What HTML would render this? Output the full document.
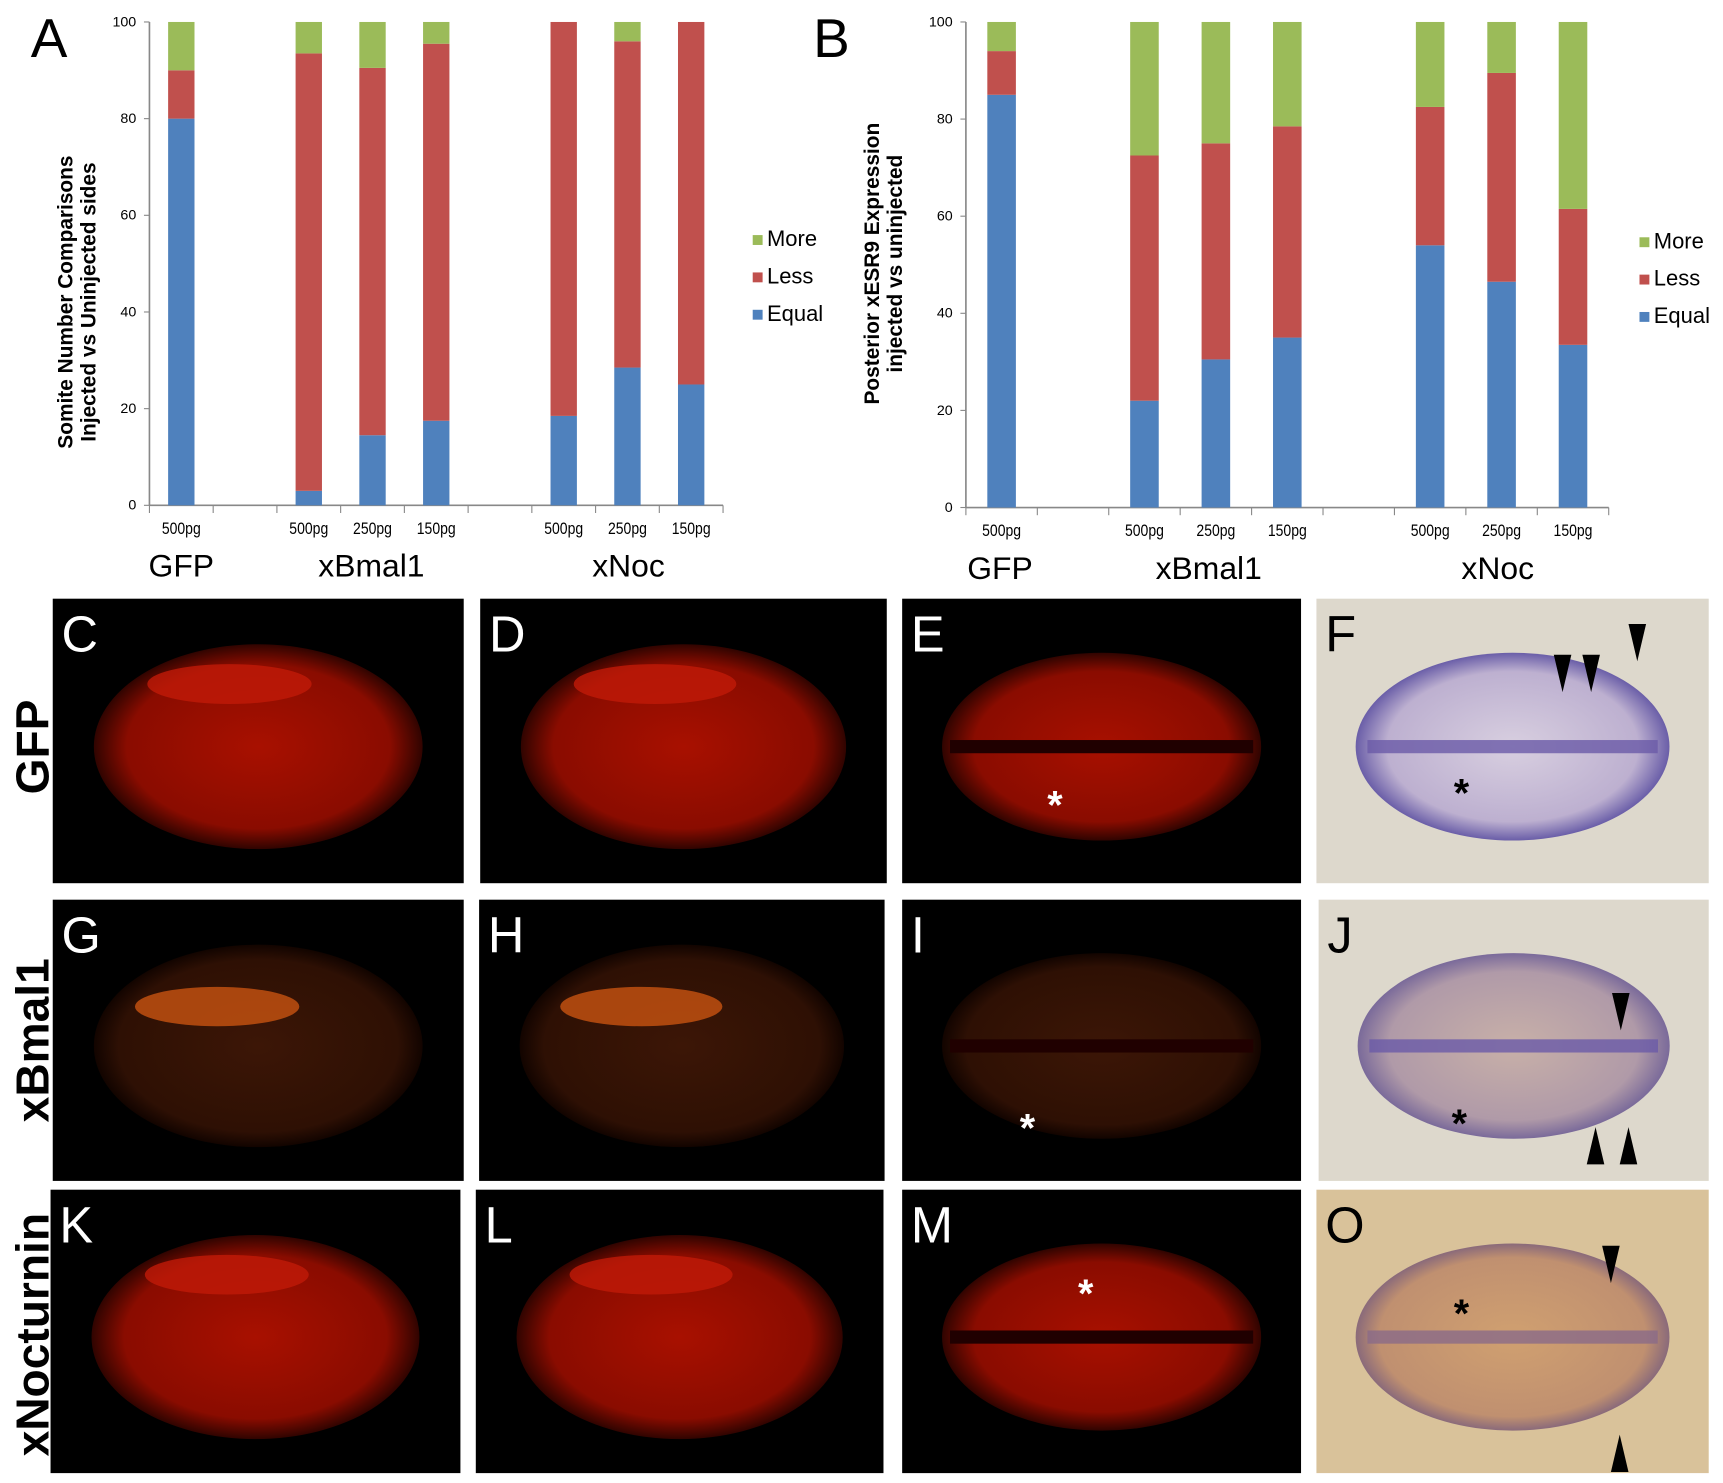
<!DOCTYPE html>
<html><head><meta charset="utf-8"><style>
html,body{margin:0;padding:0;background:#fff;}
svg{display:block;}
</style></head><body>
<svg id="fig" width="1723" height="1483" viewBox="0 0 1568 1350" preserveAspectRatio="none" xmlns="http://www.w3.org/2000/svg" font-family="Liberation Sans, sans-serif">
<defs>
<radialGradient id="redE" cx="50%" cy="50%" r="50%"><stop offset="0" stop-color="#a81000"/><stop offset="0.8" stop-color="#8a0c00"/><stop offset="1" stop-color="#300400"/></radialGradient>
<radialGradient id="brE" cx="50%" cy="50%" r="50%"><stop offset="0" stop-color="#3c1606"/><stop offset="0.85" stop-color="#2e1004"/><stop offset="1" stop-color="#120400"/></radialGradient>
<radialGradient id="ishE" cx="50%" cy="50%" r="50%"><stop offset="0" stop-color="#d8cfe0"/><stop offset="0.8" stop-color="#bdb0d0"/><stop offset="1" stop-color="#6a5ea8"/></radialGradient>
<radialGradient id="ishJ" cx="50%" cy="50%" r="50%"><stop offset="0" stop-color="#c8b0a8"/><stop offset="0.8" stop-color="#b09aa8"/><stop offset="1" stop-color="#7a6a9a"/></radialGradient>
<radialGradient id="ishO" cx="50%" cy="50%" r="50%"><stop offset="0" stop-color="#d0a070"/><stop offset="0.85" stop-color="#c09070"/><stop offset="1" stop-color="#8a6a7a"/></radialGradient>
</defs>
<g id="chartA"></g>
<g id="chartB"></g>
<g id="photos"></g>
</svg>
<script>
const NS='http://www.w3.org/2000/svg';
const cats=['500pg','500pg','250pg','150pg','500pg','250pg','150pg'];
const groups=['GFP','xBmal1','xNoc'];
const seriesNames=['Equal','Less','More'];
const colors=['#4f81bd','#c0504d','#9bbb59'];
const yTicks=[0,20,40,60,80,100];
const aEqual=[80,3,14.5,17.5,18.5,28.5,25];
const aLess=[10,90.5,76,78,81.5,67.5,75];
const aMore=[10,6.5,9.5,4.5,0,4,0];
const bEqual=[85,22,30.5,35,54,46.5,33.5];
const bLess=[9,50.5,44.5,43.5,28.5,43,28];
const bMore=[6,27.5,25,21.5,17.5,10.5,38.5];
const slotA=[0,2,3,4,6,7,8];

function el(tag,attrs,parent,text){const e=document.createElementNS(NS,tag);for(const k in attrs)e.setAttribute(k,attrs[k]);if(text!==undefined)e.textContent=text;parent.appendChild(e);return e;}

function drawChart(g,cfg,series){
  const y=v=>cfg.y0-(cfg.y0-cfg.y100)*v/100;
  const x=s=>cfg.x0+cfg.step*(s+0.5);
  let a=el('line',{x1:cfg.x0,y1:cfg.y100,x2:cfg.x0,y2:cfg.y0,stroke:'#888','stroke-width':1.5},g);
  
  a=el('line',{x1:cfg.x0,y1:cfg.y0,x2:cfg.x0+cfg.step*9,y2:cfg.y0,stroke:'#888','stroke-width':1.5},g);
  
  yTicks.forEach(t=>{
    const tl=el('line',{x1:cfg.x0-5,y1:y(t),x2:cfg.x0,y2:y(t),stroke:'#888'},g);
    
    const tx=el('text',{x:cfg.x0-12,y:y(t)+4,'font-size':13,'text-anchor':'end',fill:'#000'},g,String(t));
    
  });
  for(let i=0;i<=9;i++){const tl=el('line',{x1:cfg.x0+cfg.step*i,y1:cfg.y0,x2:cfg.x0+cfg.step*i,y2:cfg.y0+7,stroke:'#888'},g);
    }
  cats.forEach((c,i)=>{
    const cx=x(slotA[i]);let base=0;
    series.forEach((s,k)=>{
      const v=s[i];
      const r=el('rect',{x:cx-cfg.bw/2,y:y(base+v),width:cfg.bw,height:y(base)-y(base+v),fill:colors[k]},g);
      
      base+=v;
    });
    const t=el('text',{x:cx,y:cfg.y0+26,'font-size':15,'text-anchor':'middle',fill:'#000','transform':'translate('+cx+','+(cfg.y0+26)+') scale(0.85,1) translate('+(-cx)+','+(-(cfg.y0+26))+')'},g,c);
    
  });
  groups.forEach((gr,i)=>{
    const t=el('text',{x:cfg.gx[i],y:cfg.y0+65,'font-size':29,'text-anchor':'middle',fill:'#000'},g,gr);
    
  });
  [2,1,0].forEach((k,j)=>{
    const ly=cfg.ly+j*34;
    const r=el('rect',{x:cfg.lx,y:ly-10,width:9,height:9,fill:colors[k]},g);
    
    const t=el('text',{x:cfg.lx+13,y:ly,'font-size':20,fill:'#000'},g,seriesNames[k]);
    
  });
  const tt=el('text',{'font-size':19,'font-weight':'bold','text-anchor':'middle',fill:'#000',transform:'translate('+cfg.tx+','+cfg.ty+') rotate(-90)'},g);
  
  el('tspan',{x:0,y:0},tt,cfg.t1);el('tspan',{x:0,y:21},tt,cfg.t2);
  const pl=el('text',{x:cfg.px,y:52,'font-size':50,fill:'#000'},g,cfg.panel);
  
}
drawChart(document.getElementById('chartA'),{x0:136,step:58,y0:460,y100:20,bw:24,gx:[165,338,572],lx:685,ly:224,tx:66,ty:275,t1:'Somite Number Comparisons',t2:'Injected vs Uninjected sides',panel:'A',px:28},[aEqual,aLess,aMore]);
drawChart(document.getElementById('chartB'),{x0:879,step:65,y0:462,y100:20,bw:26,gx:[910,1100,1363],lx:1492,ly:226,tx:800,ty:240,t1:'Posterior xESR9 Expression',t2:'injected vs uninjected',panel:'B',px:740},[bEqual,bLess,bMore]);

const P=document.getElementById('photos');
const panels=[
 ['C',48,545,374,259,'f'],['D',437,545,370,259,'f'],['E',821,545,363,259,'fd'],['F',1198,545,357,259,'iE'],
 ['G',48,819,374,256,'b'],['H',436,819,369,256,'b'],['I',821,819,363,256,'bd'],['J',1200,819,355,256,'iJ'],
 ['K',46,1083,373,258,'f'],['L',433,1083,371,258,'f'],['M',821,1083,363,258,'fd'],['O',1198,1083,357,258,'iO']];
panels.forEach(p=>{
  const [L,x,y,w,h,t]=p;
  const g=el('g',{},P);
  const ish=t[0]==='i';
  el('rect',{x:x,y:y,width:w,height:h,fill:ish?(t==='iO'?'#d9c29a':'#ddd8cc'):'#000'},g);
  const cx=x+w*0.5,cy=y+h*0.52;
  const fill=ish?'url(#ish'+t[1]+')':(t[0]==='b'?'url(#brE)':'url(#redE)');
  el('ellipse',{cx:cx,cy:cy,rx:w*0.4,ry:h*(t==='fd'||t==='bd'||ish?0.33:0.36),fill:fill},g);
  if(t==='fd'||t==='bd'){el('rect',{x:x+w*0.12,y:cy-6,width:w*0.76,height:12,fill:'#200000'},g);}
  if(ish){el('rect',{x:x+w*0.13,y:cy-6,width:w*0.74,height:12,fill:t==='iO'?'#8a6a88':'#6a5aa8',opacity:0.8},g);}
  if(t==='b'){el('ellipse',{cx:x+w*0.4,cy:y+h*0.38,rx:w*0.2,ry:h*0.07,fill:'#c05010',opacity:0.85},g);}
  if(t==='f'){el('ellipse',{cx:x+w*0.43,cy:y+h*0.3,rx:w*0.2,ry:h*0.07,fill:'#c01a08',opacity:0.8},g);}
  const lt=el('text',{x:x+8,y:y+48,'font-size':46,fill:ish?'#000':'#fff'},g,L);
  
});
[[960,745,'#fff'],[1330,734,'#000'],[935,1039,'#fff'],[1328,1035,'#000'],[988,1190,'#fff'],[1330,1208,'#000']].forEach(a=>{
  const t=el('text',{x:a[0],y:a[1],'font-size':36,'font-weight':'bold','text-anchor':'middle',fill:a[2]},P,'*');
  
});
[[1422,630,1],[1448,630,1],[1490,602,1],[1475,938,1],[1452,1026,-1],[1482,1026,-1],[1466,1168,1],[1474,1306,-1]].forEach(a=>{
  const [x,y,d]=a;
  const pth=el('polygon',{points:(x-8)+','+(y-34*d)+' '+(x+8)+','+(y-34*d)+' '+x+','+y,fill:'#000'},P);
  
});
[['GFP',680],['xBmal1',947],['xNocturnin',1215]].forEach(r=>{
  const t=el('text',{'font-size':42,'font-weight':'bold','text-anchor':'middle',fill:'#000',transform:'translate(44,'+r[1]+') rotate(-90)'},P,r[0]);
  
});
</script>
</body></html>
